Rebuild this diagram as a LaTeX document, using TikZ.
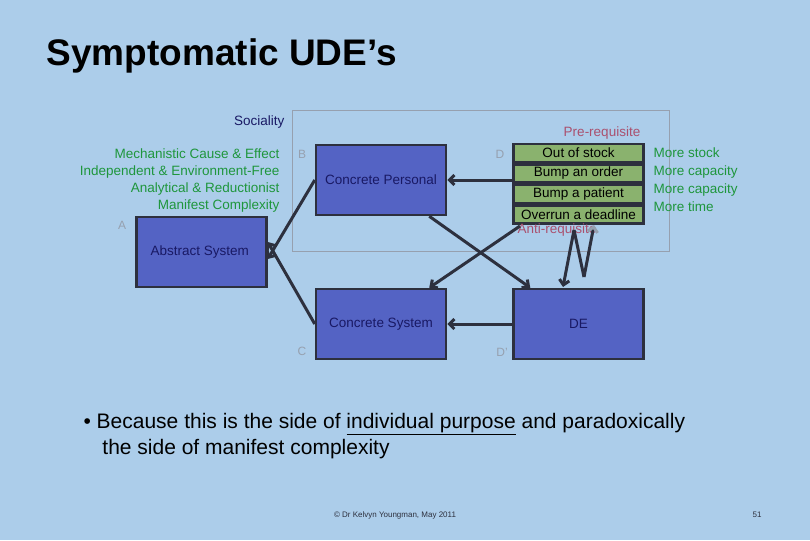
\documentclass[tikz,border=0pt]{standalone}
\usepackage{fontspec}
\setmainfont{Liberation Sans}
\usetikzlibrary{positioning, arrows.meta}
\definecolor{bg}{RGB}{172,205,234}
\definecolor{boxfill}{RGB}{84,99,196}
\definecolor{edge}{RGB}{45,48,62}
\definecolor{tabfill}{RGB}{138,178,110}
\definecolor{greentext}{RGB}{30,150,60}
\definecolor{pinktext}{RGB}{170,80,110}
\definecolor{navytext}{RGB}{25,25,100}
\definecolor{lettergray}{RGB}{150,160,175}
\begin{document}
\begin{tikzpicture}[x=1pt, y=-1pt,
    every node/.style={font=\fontsize{13.5}{15}\selectfont},
    bigbox/.style={draw=edge, line width=2.5pt, fill=boxfill, text=navytext, minimum width=130pt, minimum height=70pt, inner sep=0pt},
    row/.style={draw=edge, line width=2.5pt, fill=tabfill, minimum width=130pt, minimum height=18pt, inner sep=0pt},
    corner/.style={text=lettergray, font=\fontsize{12}{14}\selectfont},
    link/.style={draw=edge, line width=3pt, -{Straight Barb[length=5pt,width=10pt]}},
]
\fill[bg] (0,0) rectangle (810,540);
\useasboundingbox (0,0) rectangle (810,540);
\node[anchor=base west, font=\bfseries\fontsize{37}{40}\selectfont] (title) at (43,66) {Symptomatic UDE’s};
% frame
\draw[lettergray, line width=0.8pt] (292,110) rectangle (669,251);
% boxes
\node[bigbox] (abs) at (201.5,252) {};
\node[anchor=west, text=navytext] (abslbl) at (147,252) {Abstract System};
\node[bigbox] (cpers) at (381,180) {Concrete Personal};
\node[bigbox] (csys) at (381,324) {Concrete System};
\node[bigbox] (de) at (578.5,324) {DE};
% table
\node[row] (r1) at (578.5,153) {Out of stock};
\node[row, below=0pt of r1] (r2) {Bump an order};
\node[row, below=0pt of r2] (r3) {Bump a patient};
\node[row, below=0pt of r3] (r4) {Overrun a deadline};
% labels
\node[anchor=base east, text=navytext] (soc) at (288,126) {Sociality};
\node[anchor=east, text=greentext, align=right, font=\fontsize{13.5}{17}\selectfont] (props) at (283,181) {Mechanistic Cause \& Effect\\Independent \& Environment-Free\\Analytical \& Reductionist\\Manifest Complexity};
\node[anchor=west, text=greentext, align=left, font=\fontsize{13.5}{18}\selectfont] (more) at (650,180) {More stock\\More capacity\\More capacity\\More time};
\node[anchor=base, text=pinktext] (pre) at (602,137) {Pre-requisite};
\node[anchor=base, text=pinktext] (anti) at (557,233) {Anti-requisite};
\node[corner] (cA) at (122,225) {A};
\node[corner] (cB) at (302,154) {B};
\node[corner] (cC) at (302,351) {C};
\node[corner] (cD) at (500,154) {D};
\node[corner] (cDp) at (502,352) {D’};
% connectors
\coordinate (ta) at (520,226);
\coordinate (zz1) at (574,230);
\coordinate (zz2) at (584,277);
\coordinate (zz3) at (594,225);
\draw[link] (cpers.east -| r2.west) -- (cpers.east);
\draw[link] (de.west) -- (csys.east);
\draw[link] ([xshift=-18pt]cpers.south east) -- ([xshift=18pt]de.north west);
\draw[link] (ta) -- ([xshift=-18pt]csys.north east);
\draw[link] (cpers.west) -- ([yshift=-7pt]abs.east);
\draw[link] (csys.west) -- ([yshift=10pt]abs.east);
\draw[link] (zz1) -- (563,287);
\draw[edge, line width=3pt] (zz1) -- (zz2);
\draw[link, -{Straight Barb[length=5pt,width=10pt,color=lettergray]}] (zz2) -- (zz3);
% bullet
\node[anchor=north west, align=left, font=\fontsize{21}{26}\selectfont] (bullet) at (80,410)
  {\textbullet\ Because this is the side of \underline{individual purpose} and paradoxically\\\hspace*{0.9em}the side of manifest complexity};
\node[font=\fontsize{8}{10}\selectfont, text=edge] (foot) at (395,515) {© Dr Kelvyn Youngman, May 2011};
\node[font=\fontsize{8}{10}\selectfont, text=edge] (page) at (757,515) {51};
\end{tikzpicture}
\end{document}
